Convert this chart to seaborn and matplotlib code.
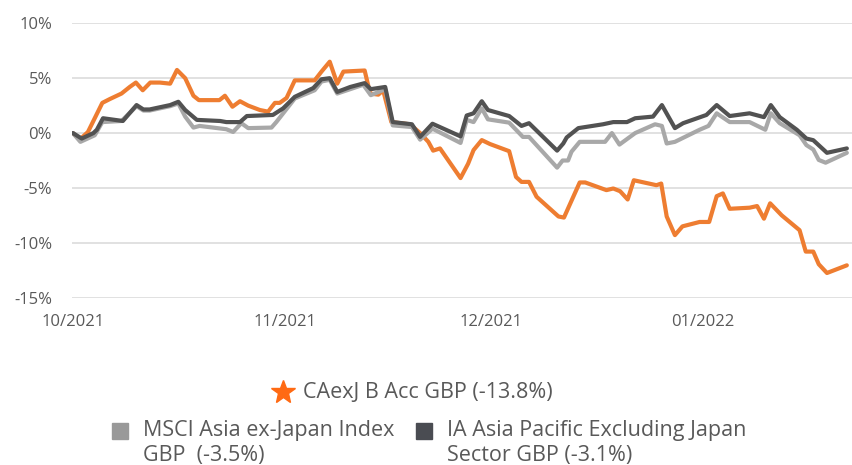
import matplotlib
matplotlib.use("Agg")
import matplotlib.pyplot as plt
import pandas as pd
import seaborn as sns
from matplotlib.lines import Line2D

# ---------------- data (days since 1 Oct 2021, cumulative % return) ----------------
start_date = "2021-10-01"

fund_name = "CAexJ B Acc GBP (-13.8%)"
fund_days = [0.0, 1.0, 2.2, 4.3, 5.4, 7.1, 8.3, 9.2, 10.2, 11.3, 12.7, 14.2, 15.2, 16.4,
             17.6, 18.4, 21.4, 22.2, 23.3, 24.4, 25.6, 27.3, 28.5, 29.5, 30.2, 31.2, 32.4,
             35.3, 36.3, 37.5, 38.6, 39.5, 42.6, 43.4, 44.6, 45.3, 46.5, 49.2, 50.7, 51.9,
             52.6, 53.6, 56.6, 57.7, 58.5, 59.7, 60.9, 63.7, 64.7, 65.5, 66.6, 67.7, 70.9,
             71.7, 73.1, 74.0, 74.8, 77.9, 78.9, 79.9, 81.0, 81.9, 85.2, 85.9, 86.7, 87.9,
             89.0, 91.5, 92.9, 94.0, 94.9, 95.9, 98.8, 99.9, 100.9, 101.8, 103.5, 106.1,
             107.0, 108.1, 108.9, 110.1, 113.0]
fund_vals = [0.0, -0.6, 0.1, 2.75, 3.1, 3.6, 4.2, 4.6, 3.9, 4.6, 4.6, 4.5, 5.75, 5.0,
             3.4, 3.0, 3.0, 3.4, 2.4, 2.9, 2.5, 2.1, 1.95, 2.75, 2.75, 3.2, 4.8,
             4.8, 5.6, 6.5, 4.5, 5.6, 5.7, 3.6, 3.5, 3.9, 1.0, 0.8, 0.0, -0.8,
             -1.6, -1.4, -4.1, -2.8, -1.55, -0.64, -1.0, -1.65, -4.0, -4.45, -4.45, -5.8, -7.6,
             -7.7, -5.75, -4.5, -4.5, -5.2, -5.05, -5.3, -6.05, -4.3, -4.75, -4.6, -7.6, -9.3,
             -8.5, -8.1, -8.1, -5.75, -5.5, -6.9, -6.8, -6.65, -7.8, -6.4, -7.5, -8.85,
             -10.8, -10.8, -11.95, -12.75, -12.05]

msci_name = "MSCI Asia ex-Japan Index GBP  (-3.5%)"
msci_days = [0.0, 1.1, 3.2, 4.3, 7.1, 9.3, 10.3, 11.2, 14.2, 15.4, 16.4, 17.6, 18.5, 22.4,
             23.4, 24.6, 25.6, 29.0, 29.7, 32.4, 35.3, 36.3, 37.5, 38.6, 42.4, 43.5, 45.6,
             46.7, 49.5, 50.7, 52.5, 56.6, 57.5, 58.5, 59.7, 60.6, 63.7, 65.7, 66.6, 70.7,
             71.5, 72.3, 72.8, 74.0, 77.7, 78.7, 79.8, 82.1, 85.0, 86.0, 86.7, 87.9, 91.5,
             92.8, 94.0, 95.9, 98.8, 101.1, 101.9, 103.2, 106.1, 107.1, 108.1, 108.9, 109.9,
             113.0]
msci_vals = [0.0, -0.8, -0.2, 1.0, 1.1, 2.45, 2.05, 2.05, 2.45, 2.7, 1.5, 0.5, 0.65, 0.35,
             0.1, 0.9, 0.45, 0.5, 1.0, 3.15, 3.9, 4.7, 4.85, 3.6, 4.4, 3.45, 4.0,
             0.7, 0.55, -0.6, 0.4, -0.9, 1.2, 1.0, 2.25, 1.25, 0.95, -0.35, -0.35, -3.15,
             -2.5, -2.5, -1.7, -0.8, -0.8, 0.0, -1.05, 0.0, 0.8, 0.65, -0.95, -0.8, 0.3,
             0.65, 1.8, 1.0, 1.0, 0.3, 1.8, 0.9, -0.2, -1.1, -1.5, -2.45, -2.7,
             -1.8]

ia_name = "IA Asia Pacific Excluding Japan Sector GBP (-3.1%)"
ia_days = [0.0, 1.3, 3.0, 3.5, 4.4, 7.3, 9.3, 10.3, 11.2, 14.2, 15.4, 16.4, 18.1, 21.5,
           22.4, 24.4, 25.4, 29.2, 30.7, 32.4, 35.1, 36.3, 37.5, 38.6, 40.5, 42.6, 43.5,
           45.6, 46.7, 49.5, 50.7, 52.5, 56.6, 57.5, 58.5, 59.7, 60.6, 63.7, 65.5, 66.6,
           70.7, 71.6, 72.1, 73.8, 77.4, 78.9, 80.9, 82.1, 84.7, 86.0, 87.9, 89.1, 92.5,
           94.0, 95.9, 98.8, 100.9, 101.9, 103.2, 105.7, 107.1, 108.1, 110.1, 113.0]
ia_vals = [0.0, -0.5, 0.0, 0.3, 1.35, 1.1, 2.55, 2.15, 2.15, 2.55, 2.85, 2.1, 1.2, 1.1,
           1.0, 1.0, 1.55, 1.65, 2.25, 3.3, 4.1, 4.9, 5.0, 3.75, 4.2, 4.55, 4.0,
           4.2, 1.0, 0.8, -0.35, 0.85, -0.3, 1.6, 1.8, 2.9, 2.1, 1.55, 0.65, 0.9,
           -1.6, -0.95, -0.4, 0.45, 0.8, 1.0, 1.0, 1.35, 1.5, 2.55, 0.45, 0.9, 1.65,
           2.55, 1.55, 1.8, 1.45, 2.55, 1.45, 0.3, -0.5, -0.65, -1.8, -1.4]

y_ticks = [-15, -10, -5, 0, 5, 10]
x_tick_dates = ["2021-10-01", "2021-11-01", "2021-12-01", "2022-01-01"]
x_tick_labels = ["10/2021", "11/2021", "12/2021", "01/2022"]

colors = {fund_name: "#EE7D31", msci_name: "#A8A8A8", ia_name: "#525252"}

# ---------------- build long table ----------------
t0 = pd.Timestamp(start_date)
frames = []
for name, d, v in [(fund_name, fund_days, fund_vals),
                   (msci_name, msci_days, msci_vals),
                   (ia_name, ia_days, ia_vals)]:
    frames.append(pd.DataFrame({"date": t0 + pd.to_timedelta(d, unit="D"),
                                "value": v, "series": name}))
df = pd.concat(frames, ignore_index=True)

# ---------------- plot ----------------
sns.set_theme(style="white")
plt.rcParams["font.family"] = ["Open Sans", "DejaVu Sans"]

W, H = 853, 465
fig = plt.figure(figsize=(W / 100, H / 100), dpi=100)
left_px, right_px, top_px, bot_px = 71.5, 853, 23.3, 297.7
ax = fig.add_axes([left_px / W, 1 - bot_px / H, (right_px - left_px) / W, (bot_px - top_px) / H])

sns.lineplot(data=df, x="date", y="value", hue="series",
             hue_order=[fund_name, msci_name, ia_name], palette=colors,
             estimator=None, sort=False, linewidth=3.0, legend=False, ax=ax)

ax.set_ylim(-15, 10)
ax.set_xlim(t0 - pd.Timedelta(days=0.2), t0 + pd.Timedelta(days=113.9))
ax.set_yticks(y_ticks)
ax.set_yticklabels([f"{v}%" for v in y_ticks])
ax.set_xticks(pd.to_datetime(x_tick_dates))
ax.set_xticklabels(x_tick_labels)
ax.set_xlabel("")
ax.set_ylabel("")
ax.grid(axis="y", color="#d9d9d9", linewidth=1.1)
ax.grid(axis="x", visible=False)
ax.set_axisbelow(True)
sns.despine(ax=ax, left=True, bottom=True)
ax.tick_params(axis="both", length=0, labelsize=12, labelcolor="#595959")
ax.tick_params(axis="y", pad=14)
ax.tick_params(axis="x", pad=12)

# ---------------- legend (manual) ----------------
def fx(x):
    return x / W

def fy(y):
    return 1 - y / H

leg_color = "#595959"
leg_size = 15.5
fig.add_artist(Line2D([fx(283)], [fy(392)], marker="*", markersize=18, color="#FF6A13",
                      linestyle="none", transform=fig.transFigure))
fig.text(fx(303), fy(392), fund_name, ha="left", va="center", fontsize=leg_size, color=leg_color)

fig.add_artist(Line2D([fx(120)], [fy(431)], marker="s", markersize=11, color="#999999",
                      linestyle="none", transform=fig.transFigure))
fig.text(fx(143), fy(430), "MSCI Asia ex-Japan Index", ha="left", va="center",
         fontsize=leg_size, color=leg_color)
fig.text(fx(143), fy(455), "GBP  (-3.5%)", ha="left", va="center",
         fontsize=leg_size, color=leg_color)

fig.add_artist(Line2D([fx(424)], [fy(431)], marker="s", markersize=11, color="#4A4C52",
                      linestyle="none", transform=fig.transFigure))
fig.text(fx(447), fy(430), "IA Asia Pacific Excluding Japan", ha="left", va="center",
         fontsize=leg_size, color=leg_color)
fig.text(fx(447), fy(455), "Sector GBP (-3.1%)", ha="left", va="center",
         fontsize=leg_size, color=leg_color)

fig.savefig("out.png", dpi=100)
